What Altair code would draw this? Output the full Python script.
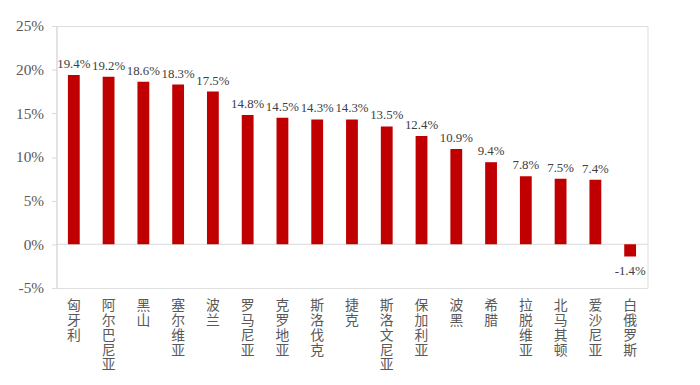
import altair as alt
import pandas as pd

countries = ["匈牙利", "阿尔巴尼亚", "黑山", "塞尔维亚", "波兰", "罗马尼亚", "克罗地亚",
             "斯洛伐克", "捷克", "斯洛文尼亚", "保加利亚", "波黑", "希腊", "拉脱维亚",
             "北马其顿", "爱沙尼亚", "白俄罗斯"]
values = [19.4, 19.2, 18.6, 18.3, 17.5, 14.8, 14.5, 14.3, 14.3, 13.5, 12.4, 10.9, 9.4,
          7.8, 7.5, 7.4, -1.4]

SERIF = "'Times New Roman', 'Liberation Serif', serif"

df = pd.DataFrame({"country": countries, "value": values})
df["label"] = df["value"].map(lambda v: f"{v:.1f}%")

x = alt.X("country:N", sort=countries, title=None,
          scale=alt.Scale(paddingInner=0.66, paddingOuter=0.33),
          axis=alt.Axis(labelAngle=0, labelExpr="split(datum.label, '')",
                        labelFont="Noto Sans CJK SC", labelFontSize=14, labelLineHeight=15,
                        labelColor="#595959", labelBaseline="top", labelPadding=11,
                        domain=False, ticks=False))
y = alt.Y("value:Q", title=None,
          scale=alt.Scale(domain=[-5, 25], nice=False),
          axis=alt.Axis(values=[-5, 0, 5, 10, 15, 20, 25], labelExpr="datum.value + '%'",
                        labelFont=SERIF, labelFontSize=15.5, labelColor="#595959",
                        domainColor="#d9d9d9", tickColor="#d9d9d9", tickSize=5,
                        labelPadding=8, grid=False))

bars = alt.Chart(df).mark_bar(color="#C00000").encode(x=x, y=y)

pos = alt.Chart(df[df.value >= 0]).mark_text(
    font=SERIF, fontSize=13, color="#404040", baseline="bottom", dy=-4
).encode(x=alt.X("country:N", sort=countries), y="value:Q", text="label:N")

neg = alt.Chart(df[df.value < 0]).mark_text(
    font=SERIF, fontSize=13, color="#404040", baseline="top", dy=9
).encode(x=alt.X("country:N", sort=countries), y="value:Q", text="label:N")

zero = alt.Chart(pd.DataFrame({"z": [0]})).mark_rule(color="#d9d9d9", strokeWidth=1).encode(
    y="z:Q")

chart = alt.layer(zero, bars, pos, neg).properties(
    width=598, height=265,
    autosize=alt.AutoSizeParams(type="none"),
    padding={"left": 49, "top": 16, "right": 45, "bottom": 96},
).configure_view(stroke=None).configure(background="white")

chart.save("out.html", embed_options={"renderer": "svg", "actions": False})
